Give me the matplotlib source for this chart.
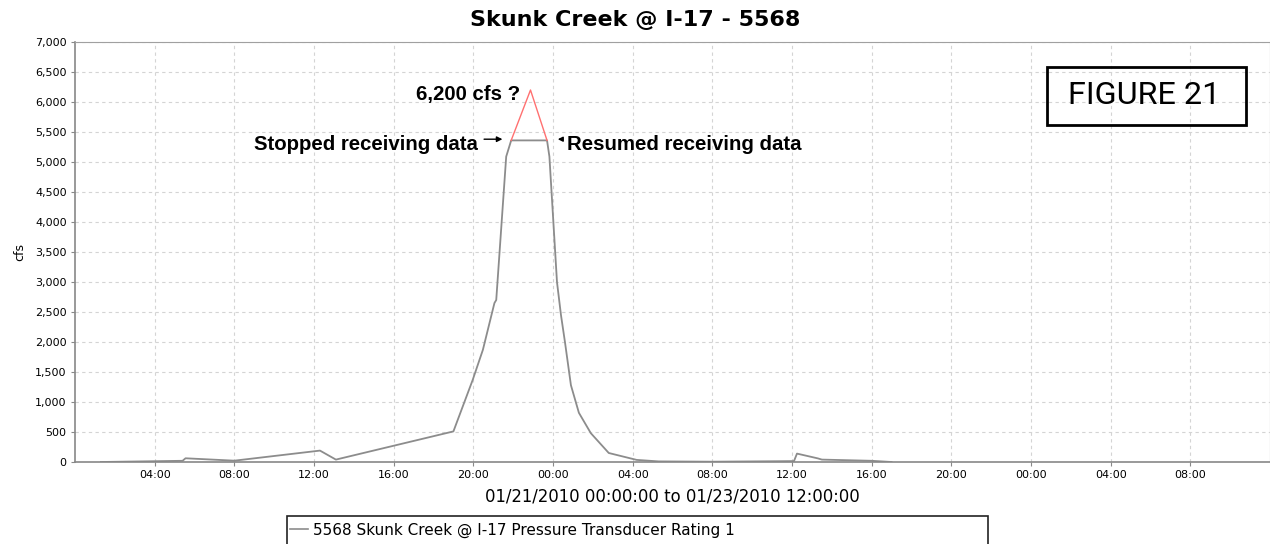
import matplotlib
matplotlib.use("Agg")
import matplotlib.pyplot as plt
from matplotlib.lines import Line2D
from matplotlib.patches import Rectangle
from matplotlib.ticker import FuncFormatter

# ── Data (hours after 01/21/2010 00:00, flow in cfs) ─────────────────────────
hours = [1.3, 5.4, 5.55, 8.0, 12.3, 13.1, 19.0, 19.97, 20.48, 21.06, 21.15,
         21.65, 21.9, 23.7, 23.82, 24.0, 24.2, 24.4, 24.6, 24.9, 25.3, 25.9,
         26.8, 28.2, 29.3, 32.0, 36.1, 36.25, 37.3, 37.5, 40.0, 41.0]
flow = [0, 20, 62, 22, 190, 40, 510, 1370, 1870, 2650, 2700,
        5090, 5360, 5360, 5090, 4100, 3000, 2450, 2000, 1280, 820, 480,
        150, 35, 10, 5, 15, 140, 60, 40, 20, 0]

# estimated peak during the telemetry gap
est_hours = [21.9, 22.87, 23.7]
est_flow = [5360, 6200, 5360]

x_ticks = list(range(4, 60, 4))
x_labels = ["04:00", "08:00", "12:00", "16:00", "20:00", "00:00", "04:00",
            "08:00", "12:00", "16:00", "20:00", "00:00", "04:00", "08:00"]
y_ticks = list(range(0, 7001, 500))

fig = plt.figure(figsize=(12.7, 5.44), dpi=100)
ax = fig.add_axes((75 / 1270, 82 / 544, 1195 / 1270, 420 / 544))

ax.plot(hours, flow, color="#8c8c8c", lw=1.3)
ax.plot(est_hours, est_flow, color="#ff7070", lw=1.0)

ax.set_xlim(0, 60)
ax.set_ylim(0, 7000)
ax.set_xticks(x_ticks)
ax.set_xticklabels(x_labels)
ax.set_yticks(y_ticks)
ax.yaxis.set_major_formatter(FuncFormatter(lambda v, _: f"{int(v):,}"))
ax.tick_params(labelsize=8, length=3, color="#888888", pad=3)
ax.grid(True, color="#d4d4d4", ls=(0, (3, 3)), lw=0.8)
for side, sp in ax.spines.items():
    sp.set_color("#a0a0a0" if side in ("top", "right") else "#888888")
    sp.set_linewidth(1.2 if side in ("left", "bottom") else 0.8)

ax.set_ylabel("cfs", fontsize=9, labelpad=6)
ax.set_xlabel("01/21/2010 00:00:00 to 01/23/2010 12:00:00", fontsize=11.9, labelpad=5)
fig.text(0.5, 1 - 20 / 544, "Skunk Creek @ I-17 - 5568", ha="center", va="center",
         fontsize=16, fontweight="bold")

# annotations
bold = dict(family="Liberation Sans", fontweight="bold", fontsize=14.7)
ax.text(22.35, 6120, "6,200 cfs ?", ha="right", va="center", **bold)
ax.text(20.23, 5290, "Stopped receiving data", ha="right", va="center", **bold)
ax.annotate("", xy=(21.6, 5380), xytext=(20.4, 5380),
            arrowprops=dict(arrowstyle="-|>", color="black", lw=1, mutation_scale=8))
ax.annotate("", xy=(24.1, 5380), xytext=(24.6, 5380),
            arrowprops=dict(arrowstyle="-|>", color="black", lw=1, mutation_scale=7))
ax.text(24.72, 5290, "Resumed receiving data", ha="left", va="center", **bold)

# figure label box
fig.add_artist(Rectangle((1047 / 1270, 1 - 125 / 544), 199 / 1270, 58 / 544,
                         transform=fig.transFigure, fill=False, ec="black", lw=2))
fig.text(1144 / 1270, 1 - 96 / 544, "FIGURE 21", ha="center", va="center",
         family="Roboto", fontsize=23.3)

# legend (frame runs off the bottom edge, as in the source screenshot)
fig.add_artist(Rectangle((287 / 1270, -10 / 544), 701 / 1270, 38 / 544,
                         transform=fig.transFigure, fill=False, ec="#222222", lw=1.2))
handle = Line2D([], [], color="#8c8c8c", lw=1.2)
fig.legend([handle], ["5568 Skunk Creek @ I-17 Pressure Transducer Rating 1"],
           loc="center left", bbox_to_anchor=(287 / 1270, 1 - 530 / 544),
           fontsize=11, frameon=False, handlelength=1.2, handletextpad=0.3,
           borderaxespad=0, borderpad=0.2)

fig.savefig("out.png", dpi=100)
